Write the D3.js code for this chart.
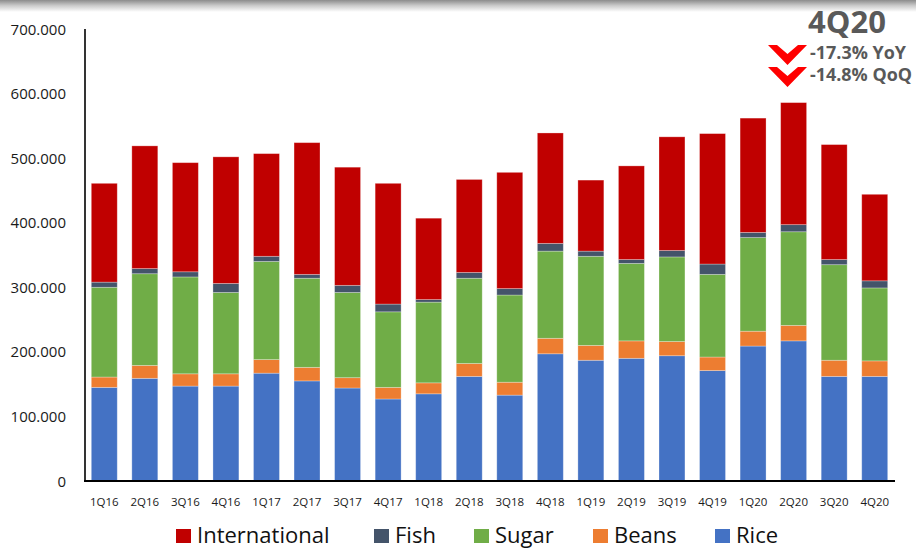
<!DOCTYPE html>
<html><head><meta charset="utf-8">
<script src="https://cdn.jsdelivr.net/npm/d3@7"></script>
<style>html,body{margin:0;padding:0;background:#fff;}svg{display:block;}</style>
</head><body>
<svg id="c" width="916" height="548"></svg>
<script>
const categories = ["1Q16","2Q16","3Q16","4Q16","1Q17","2Q17","3Q17","4Q17","1Q18","2Q18","3Q18","4Q18","1Q19","2Q19","3Q19","4Q19","1Q20","2Q20","3Q20","4Q20"];
const rice          = [145,159,147,147,167,155,144,127,135,162,133,197,187,190,194,171,209,217,162,162];
const beans         = [16,20,19,19,21,21,16,18,17,20,20,24,23,27,22,21,23,24,25,24];
const sugar         = [139,142,150,126,152,138,132,117,125,132,135,135,138,120,131,128,145,145,148,113];
const fish          = [8,8,8,14,8,6,11,12,4,9,10,12,8,6,10,16,8,11,8,11];
const international = [153,190,169,196,159,204,183,187,126,144,180,171,110,145,176,202,177,189,178,134];
const yTicks = [0,100000,200000,300000,400000,500000,600000,700000];
const seriesNames = ["Rice","Beans","Sugar","Fish","International"];
const legendOrder = ["International","Fish","Sugar","Beans","Rice"];
const colors = {Rice:"#4472C4",Beans:"#ED7D31",Sugar:"#70AD47",Fish:"#44546A",International:"#C00000"};
const annoTitle = "4Q20";
const annoLines = ["-17.3% YoY","-14.8% QoQ"];

const svg = d3.select("#c");
const font = "'Open Sans', sans-serif";

// top shadow band
const defs = svg.append("defs");
const g1 = defs.append("linearGradient").attr("id","sh").attr("x1",0).attr("y1",0).attr("x2",0).attr("y2",1);
g1.append("stop").attr("offset","0%").attr("stop-color","#8c8c8c");
g1.append("stop").attr("offset","45%").attr("stop-color","#c8c8c8");
g1.append("stop").attr("offset","100%").attr("stop-color","#ffffff");
svg.append("rect").attr("x",0).attr("y",0).attr("width",916).attr("height",12).attr("fill","url(#sh)");

const data = categories.map((c,i)=>({cat:c, Rice:rice[i]*1000, Beans:beans[i]*1000, Sugar:sugar[i]*1000, Fish:fish[i]*1000, International:international[i]*1000}));
const stack = d3.stack().keys(seriesNames)(data);

const x = d3.scaleBand().domain(categories).range([84,895]).paddingInner(0.36).paddingOuter(0.18);
const y = d3.scaleLinear().domain([0,700000]).range([481,29]);

svg.append("g").selectAll("g").data(stack).join("g")
  .attr("fill", d=>colors[d.key])
  .selectAll("rect").data(d=>d).join("rect")
  .attr("x", d=>x(d.data.cat))
  .attr("width", x.bandwidth())
  .attr("y", d=>y(d[1]))
  .attr("height", d=>y(d[0])-y(d[1]))
  .attr("stroke","rgba(255,255,255,0.35)").attr("stroke-width",0.8);

// y axis labels
const fmt = v => v===0 ? "0" : d3.format(",")(v).replace(/,/g,".");
svg.append("g").selectAll("text").data(yTicks).join("text")
  .attr("x",66).attr("y",d=>y(d)+5.5)
  .attr("text-anchor","end").attr("font-family",font).attr("font-size",15).attr("fill","#1a1a1a")
  .text(fmt);

// axis lines
svg.append("line").attr("x1",85).attr("x2",85).attr("y1",29).attr("y2",481).attr("stroke","#000").attr("stroke-width",1.6);
svg.append("line").attr("x1",84).attr("x2",895).attr("y1",y(0)).attr("y2",y(0)).attr("stroke","#000").attr("stroke-width",2);

// x labels
svg.append("g").selectAll("text").data(categories).join("text")
  .attr("x",d=>x(d)+x.bandwidth()/2).attr("y",506)
  .attr("text-anchor","middle").attr("font-family",font).attr("font-size",11.5).attr("fill","#1a1a1a")
  .text(d=>d);

// legend
const legX = {International:176, Fish:374, Sugar:474, Beans:593, Rice:715};
const lg = svg.append("g").selectAll("g").data(legendOrder).join("g");
lg.append("rect").attr("x",d=>legX[d]).attr("y",529).attr("width",15).attr("height",14).attr("fill",d=>colors[d]);
lg.append("text").attr("x",d=>legX[d]+21).attr("y",542.5).attr("font-family",font).attr("font-size",22).attr("fill","#111").text(d=>d);

// annotation
svg.append("text").attr("x",847).attr("y",33).attr("text-anchor","middle").attr("font-family",font).attr("font-weight",700)
  .attr("font-size",31).attr("fill","#595959").text(annoTitle);
const annoY = [59,81];
annoLines.forEach((t,i)=>{
  svg.append("text").attr("x",810).attr("y",annoY[i]).attr("font-family",font).attr("font-weight",700)
    .attr("font-size",17).attr("fill","#595959").attr("textLength",i===0?96:102).attr("lengthAdjust","spacingAndGlyphs").text(t);
  const ty = annoY[i]-14;
  const pts = [[768,ty],[777,ty],[787.5,ty+9],[798,ty],[807,ty],[787.5,ty+20]];
  svg.append("polygon").attr("points",pts.map(p=>p.join(",")).join(" ")).attr("fill","#FF0000");
});
</script>
</body></html>
